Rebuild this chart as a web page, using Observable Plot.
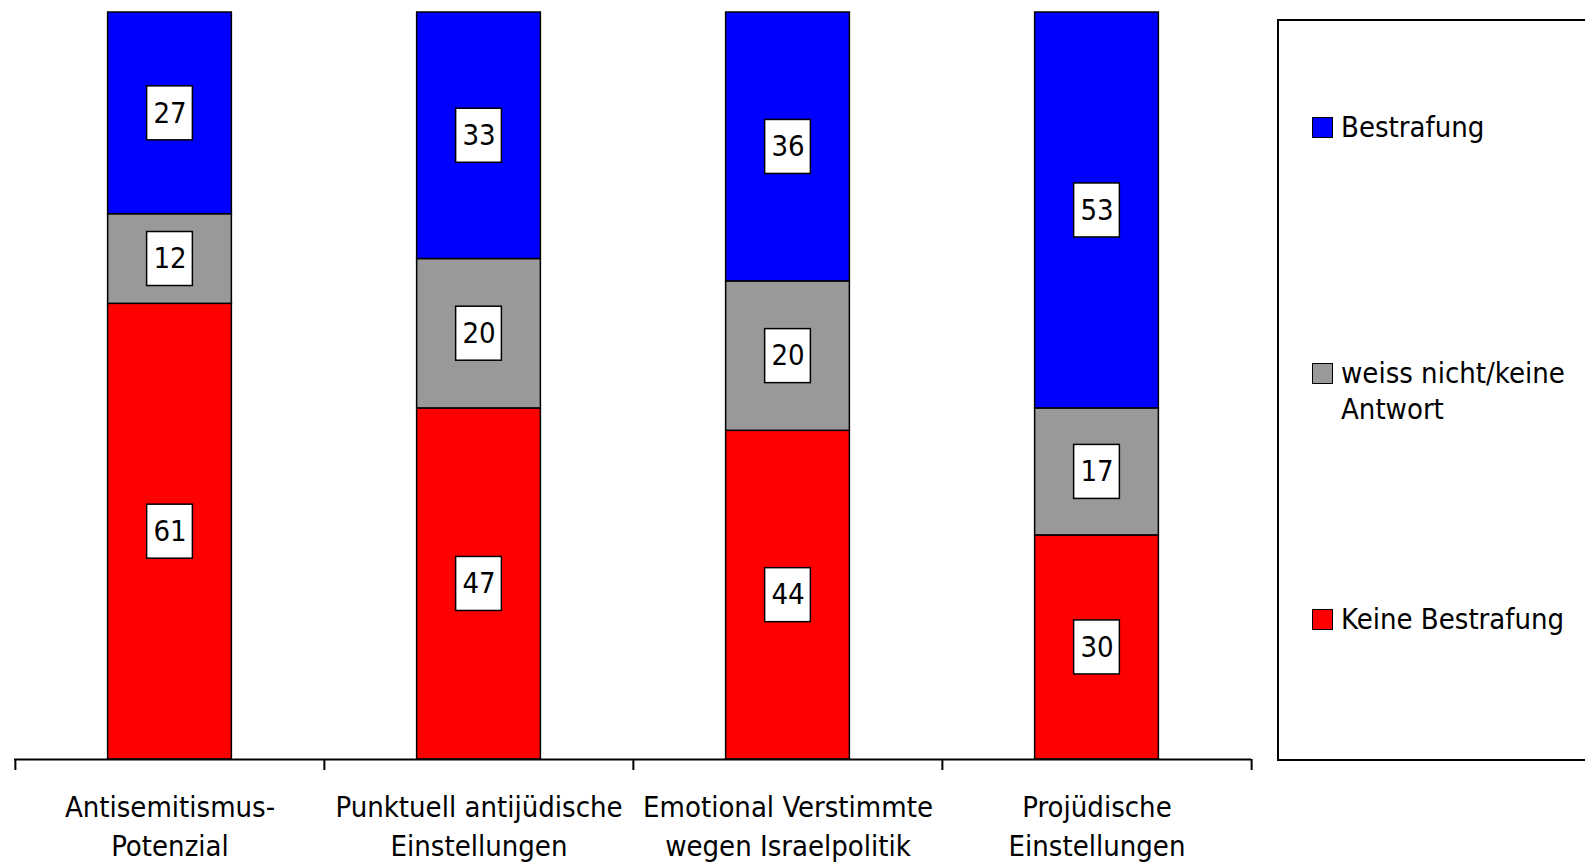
<!DOCTYPE html>
<html><head><meta charset="utf-8">
<script src="https://cdn.jsdelivr.net/npm/d3@7"></script>
<script src="https://cdn.jsdelivr.net/npm/@observablehq/plot@0.6"></script>
<style>
body{margin:0;overflow:hidden;background:#fff;font-family:"DejaVu Sans Condensed","DejaVu Sans",sans-serif;}
#chart{position:absolute;left:0;top:0;}
#legend{position:absolute;left:1277px;top:19px;width:360px;height:742px;border:2px solid #000;box-sizing:border-box;}
.item{position:absolute;left:33px;padding-left:29px;font-size:29px;line-height:35.5px;color:#000;white-space:nowrap;}
.sw{position:absolute;left:0;top:7px;width:21px;height:21px;border:1.5px solid #000;box-sizing:border-box;}
</style>
</head><body>
<div id="chart"></div>
<div id="legend"></div>
<script>
const categories = ["Antisemitismus-Potenzial","Punktuell antijüdische Einstellungen","Emotional Verstimmte wegen Israelpolitik","Projüdische Einstellungen"];
const tickLabels = ["Antisemitismus-\nPotenzial","Punktuell antijüdische\nEinstellungen","Emotional Verstimmte\nwegen Israelpolitik","Projüdische\nEinstellungen"];
const series = ["Keine Bestrafung","weiss nicht/keine Antwort","Bestrafung"];
const colors = ["#ff0000","#999999","#0000ff"];
const keineBestrafung = [61,47,44,30];
const weissNicht = [12,20,20,17];
const bestrafung = [27,33,36,53];
const legendOrder = ["Bestrafung","weiss nicht/keine\nAntwort","Keine Bestrafung"];
const legendColors = ["#0000ff","#999999","#ff0000"];

const valuesBySeries = [keineBestrafung, weissNicht, bestrafung];
const rows = [];
categories.forEach((c, i) => {
  let base = 0;
  series.forEach((s, j) => {
    const v = valuesBySeries[j][i];
    rows.push({cat: c, series: s, value: v, mid: base + v / 2});
    base += v;
  });
});

const W = 1585, H = 862, mL = 14, mR = 334, mT = 12, mB = 103;
const step = (W - mL - mR) / categories.length;
const barInset = (step - 124) / 2;
const boxInsetX = (step - 46) / 2;

const plot = Plot.plot({
  width: W, height: H,
  marginLeft: mL, marginRight: mR, marginTop: mT, marginBottom: mB,
  style: {fontFamily: '"DejaVu Sans Condensed","DejaVu Sans",sans-serif', background: "#fff"},
  x: {type: "band", domain: categories, padding: 0, label: null},
  y: {domain: [0, 100], axis: null},
  color: {domain: series, range: colors},
  marks: [
    Plot.barY(rows, Plot.stackY({x: "cat", y: "value", z: "series", fill: "series", stroke: "#000", strokeWidth: 1.5, insetLeft: barInset, insetRight: barInset, order: null})),
    Plot.barY(rows, {x: "cat", y1: "mid", y2: "mid", insetLeft: boxInsetX, insetRight: boxInsetX, insetTop: -27, insetBottom: -27, fill: "#fff", stroke: "#000", strokeWidth: 1.5}),
    Plot.text(rows, {x: "cat", y: "mid", text: d => String(d.value), fontSize: 29, fill: "#000"}),
    Plot.ruleY([0], {stroke: "#000", strokeWidth: 2}),
    Plot.ruleX(categories, {x: d => d, y1: 0, y2: 0, insetBottom: -11, dx: -step / 2, stroke: "#000", strokeWidth: 2}),
    Plot.ruleX(categories.slice(-1), {x: d => d, y1: 0, y2: 0, insetBottom: -11, dx: step / 2, stroke: "#000", strokeWidth: 2}),
    Plot.axisX({tickSize: 0, tickPadding: 30, fontSize: 29, lineHeight: 1.34, fill: "#000", tickFormat: d => tickLabels[categories.indexOf(d)], label: null})
  ]
});
document.getElementById("chart").appendChild(plot);

const legend = document.getElementById("legend");
const tops = [89, 335, 581];
legendOrder.forEach((name, i) => {
  const it = document.createElement("div");
  it.className = "item";
  it.style.top = tops[i] + "px";
  const sw = document.createElement("span");
  sw.className = "sw";
  sw.style.background = legendColors[i];
  it.appendChild(sw);
  name.split("\n").forEach((line, k) => {
    if (k) it.appendChild(document.createElement("br"));
    it.appendChild(document.createTextNode(line));
  });
  legend.appendChild(it);
});
</script>
</body></html>
